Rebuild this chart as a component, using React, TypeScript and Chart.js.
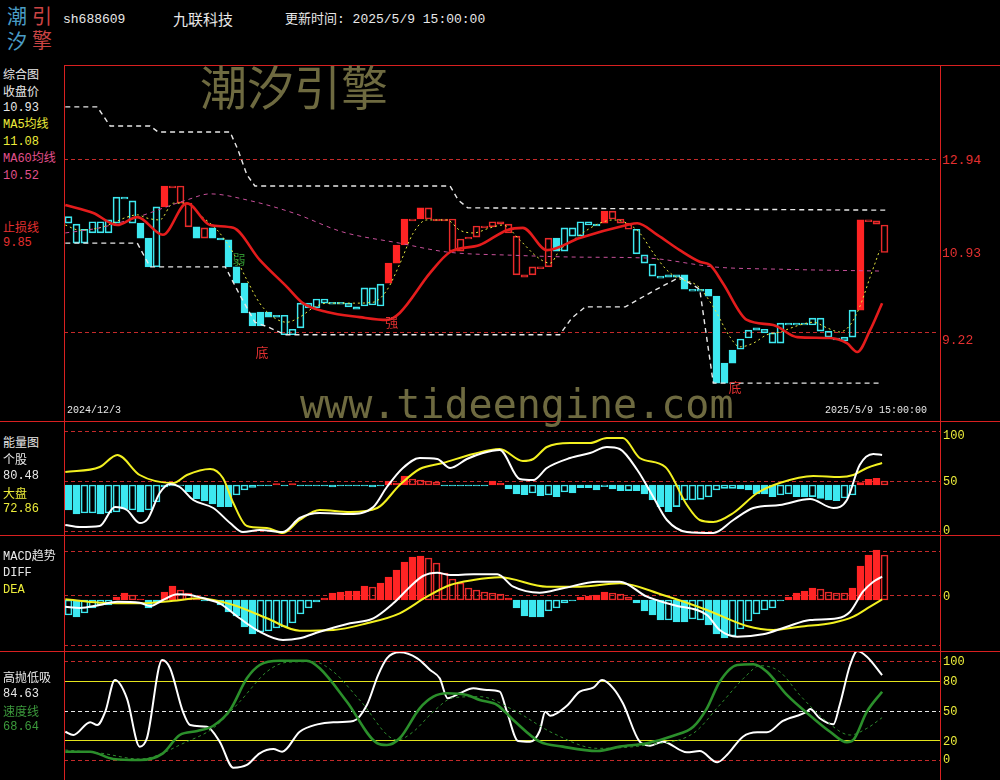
import React, { useEffect, useRef } from "react";
import { Chart, registerables } from "chart.js";
Chart.register(...registerables);

// ---------- data ----------
const N = 103;
const stockCode = "sh688609";
const stockName = "九联科技";
const updateTime = "更新时间: 2025/5/9 15:00:00";
const firstDate = "2024/12/3";
const lastDate = "2025/5/9 15:00:00";

// candle body top / bottom prices
const bodyHi = [11.70,11.54,11.43,11.59,11.59,11.63,12.12,12.12,12.04,11.56,
11.24,11.91,12.36,12.36,12.36,11.99,11.48,11.46,11.46,11.24,
11.20,10.62,10.27,9.63,9.65,9.65,9.58,9.58,9.28,9.84,
9.84,9.93,9.93,9.86,9.86,9.84,9.76,10.17,10.17,10.25,
10.70,11.09,11.65,11.65,11.89,11.89,11.65,11.65,11.65,11.22,
11.26,11.50,11.50,11.59,11.59,11.54,11.28,10.45,10.62,10.62,
11.24,11.24,11.46,11.46,11.59,11.59,11.54,11.82,11.82,11.65,
11.56,11.43,10.88,10.68,10.42,10.45,10.45,10.45,10.14,10.14,
10.14,9.99,8.55,8.83,9.07,9.26,9.31,9.28,9.20,9.41,
9.41,9.41,9.41,9.52,9.52,9.24,9.09,9.11,9.69,11.63,
11.63,11.61,11.52];
const bodyLo = [11.56,11.13,11.13,11.35,11.35,11.35,11.56,12.08,11.56,11.24,
10.62,10.62,11.91,12.32,11.99,11.48,11.24,11.24,11.24,11.20,
10.62,10.27,9.63,9.35,9.35,9.54,9.54,9.16,9.16,9.31,
9.74,9.74,9.84,9.82,9.82,9.76,9.71,9.78,9.80,9.78,
10.27,10.70,11.09,11.61,11.65,11.65,11.61,11.61,10.96,10.96,
11.22,11.26,11.46,11.48,11.54,11.35,10.45,10.40,10.45,10.58,
10.62,10.96,10.96,11.28,11.28,11.52,11.50,11.56,11.65,11.56,
11.43,10.90,10.70,10.42,10.38,10.40,10.40,10.14,10.10,10.10,
9.99,8.12,8.12,8.55,8.85,9.09,9.26,9.20,8.98,8.98,
9.37,9.37,9.37,9.37,9.24,9.11,9.05,9.03,9.11,9.69,
11.59,11.54,10.93];
// C = cyan hollow, c = cyan solid, R = red hollow, r = red solid
const candleKind = ("CCCCCCCCC" + "cc" + "C" + "r" + "RRR" + "c" + "R" + "ccccccccc" + "CCCCCCCCCCCCC" +
  "rrr" + "R" + "r" + "RRRRRRRRRRRRRRRR" + "c" + "CCCCC" + "r" + "RRR" + "CCCCCC" + "c" + "CC" +
  "cccc" + "CCCCCCCCCCCCCCC" + "r" + "RRR").split("");

// MA5 (yellow dotted)
const ma5Idx = [-0.4,1.4,4.3,7.3,8.6,9.8,11.4,13.1,14.8,16.4,18.6,20.6,22.3,23.9,25.6,27.3,28.9,30.6,32.3,35.6,38.1,39.8,41.4,43.1,44.8,47.3,48.9,50.6,52.7,54.3,56.4,58.6,60.2,61.4,63.1,64.8,66.4,68.1,69.8,71.4,73.1,74.8,76.4,78.1,78.9,80.6,82.7,83.9,85.6,87.3,88.9,91.4,93.1,94.8,96.4,97.7,98.9,100.2,101.4];
const ma5Val = [11.52,11.41,11.48,11.69,11.74,11.67,11.63,11.99,11.99,11.74,11.41,10.92,10.34,9.84,9.54,9.43,9.54,9.74,9.84,9.84,9.86,10.12,10.68,11.35,11.63,11.63,11.41,11.35,11.46,11.52,11.20,10.83,10.70,10.98,11.20,11.41,11.56,11.63,11.56,11.35,10.92,10.55,10.36,10.27,10.17,9.76,9.11,8.90,8.98,9.16,9.22,9.37,9.43,9.31,9.22,9.37,9.76,10.40,10.98];
// MA60 (pink dashed)
const ma60Idx = [-0.4,3.9,8.6,14.8,17.7,22.3,28.1,34.3,41.4,47.3,55.6,63.9,72.3,78.9,80.6,88.9,101.7];
const ma60Val = [11.35,11.46,11.69,12.06,12.19,12.06,11.78,11.37,11.13,10.94,10.87,10.83,10.81,10.66,10.62,10.57,10.53];
// stop-loss line (red)
const stopIdx = [-0.4,3.1,6.1,8.6,11.8,14.8,17.7,20.6,23.9,27.3,29.3,32.3,36.4,39.8,41.4,45.2,47.7,51.4,54.8,56.8,59.8,63.9,69.8,71.1,73.6,76.4,78.9,80.2,81.8,84.8,88.1,91.1,95.2,97.3,98.6,100.2,101.7];
const stopVal = [11.95,11.78,11.52,11.69,11.31,11.99,11.52,11.46,10.77,10.19,9.84,9.65,9.54,9.48,9.63,10.49,10.94,11.09,11.41,11.46,10.98,11.24,11.52,11.56,11.31,10.98,10.73,10.66,10.27,9.48,9.37,9.11,9.09,8.98,8.79,9.26,9.84];
// upper / lower channel (white dashed)
const upIdx = [-0.4,3.6,5.2,10.2,11.2,20.2,21.2,22.3,23.3,47.7,48.7,49.9,102.1];
const upVal = [14.06,14.06,13.65,13.65,13.52,13.52,13.13,12.60,12.36,12.36,12.06,11.89,11.84];
const lowIdx = [-0.4,8.6,10.2,19.6,21.4,23.3,24.9,27.1,61.4,62.9,64.6,69.6,73.3,76.4,78.9,80.6,101.4];
const lowVal = [11.13,11.13,10.62,10.62,10.02,9.43,9.33,9.16,9.16,9.52,9.76,9.76,10.12,10.40,10.14,8.12,8.12];
const priceTicks = [12.94, 10.93, 9.22];
const priceGrid = [12.94, 9.22];
const marks = [
  { t: "底", i: 24.2, p: 8.79, c: "#e03030" },
  { t: "底", i: 83.3, p: 8.04, c: "#e03030" },
  { t: "弱", i: 21.3, p: 10.79, c: "#2f8f2f" },
  { t: "强", i: 40.4, p: 9.43, c: "#e03030" },
];

// energy panel
const energyBase = 45.7;
const energyBar = [20.7,16.7,17.7,17.7,16.7,17.7,18.7,21.7,20.7,18.7,
20.7,28.7,43.7,44.7,44.7,39,31.7,29.7,26.7,24,
24,35.7,40.7,43.4,44.7,44.7,47,44.7,47,44.7,
44.7,44.7,44.7,43.7,44.7,44.7,44.7,44.7,43.7,44.7,
49.7,47.7,54.7,51.7,50.7,49.7,48.7,44.7,44.7,44.7,
44.7,44.7,44.7,49.7,47.7,41.7,36.7,36,37.7,35,
35.7,34,38.7,37.7,43,43,40.7,44,41.7,40,
40,40,36.7,30.7,24,19,24,30.7,30.7,31.4,
33.7,40.7,42.4,42.4,41.7,40.7,36.7,36.7,34,35.7,
36.7,34,34,34,32.4,30.7,30,32.7,35.7,48,
51.4,52.4,49.7];
const energySolid = ("1100100101" + "0000011111" + "1000111111" + "1111111111" + "1110000111" +
  "1111111101" + "0101001011" + "0111110000" + "0000111110" + "0110111001" + "110").split("");
const stockIdx = [-0.4,1.4,3.9,5.8,7.3,8.9,9.9,11.4,12.7,13.9,15.6,18.1,20.2,21.8,23.9,26.8,28.9,31.4,35.2,38.1,39.8,41.8,43.9,46.1,47.7,49.8,51.8,53.9,56.4,58.1,59.8,62.7,65.2,67.3,68.9,71.1,73.1,74.8,77.3,80.6,83.1,85.6,88.9,92.7,95.6,97.3,98.9,100.6,101.7];
const stockVal = [5.7,3.7,4.7,23.7,20.7,7.7,11.7,37.7,46.7,43.7,30.7,22.7,7.7,-1.3,0.7,-1.3,12.7,17.7,16.7,23.7,43.7,62.7,72.7,71.7,62.7,71.7,77.7,80.7,51.7,50.7,62.7,72.7,77.7,83.7,81.7,60.7,33.7,10.7,-1.3,-2.3,10.7,22.7,25.7,31.7,22.7,30.7,65.7,76.7,75.7];
const marketIdx = [-0.4,3.9,6.1,8.9,13.1,14.8,17.7,19.3,20.6,22.3,24.8,26.8,28.9,31.4,35.2,38.6,41.4,43.9,46.8,50.6,53.9,56.8,58.1,59.8,62.7,65.2,67.3,69.3,71.4,74.6,77.3,78.9,80.6,83.1,86.1,88.9,93.1,96.4,98.1,99.8,101.7];
const marketVal = [58.7,63.7,75.7,55.7,47.7,55.7,61.7,52.7,27.7,4.7,2.7,-2.3,10.7,20.7,18.7,22.7,45.7,61.7,67.7,76.7,81.7,69.7,71.7,83.7,87.7,87.7,92.7,92.7,72.7,63.7,25.7,10.7,8.7,17.7,37.7,47.7,54.7,53.7,55.7,62.7,67.7];
const energyTicks = [100, 50, 0];

// MACD panel
const macdBase = -0.05;
const macdBar = [-0.20,-0.22,-0.18,-0.13,-0.10,-0.10,-0.02,0.02,0.0,-0.04,
-0.13,-0.08,0.03,0.09,0.05,0.02,-0.03,-0.06,-0.06,-0.10,
-0.17,-0.21,-0.32,-0.39,-0.37,-0.36,-0.33,-0.32,-0.28,-0.19,
-0.13,-0.07,-0.03,0.02,0.03,0.04,0.04,0.09,0.08,0.12,
0.18,0.25,0.33,0.38,0.39,0.37,0.32,0.22,0.16,0.12,
0.07,0.05,0.03,0.02,0.01,-0.03,-0.13,-0.21,-0.22,-0.22,
-0.16,-0.13,-0.08,-0.06,-0.02,-0.01,0.0,0.03,0.02,0.01,
-0.02,-0.08,-0.16,-0.20,-0.25,-0.25,-0.27,-0.27,-0.24,-0.25,
-0.30,-0.39,-0.43,-0.41,-0.34,-0.26,-0.19,-0.15,-0.13,-0.06,
-0.02,0.02,0.04,0.07,0.06,0.03,0.02,0.02,0.07,0.29,
0.40,0.45,0.40];
const macdSolid = ("0100001101" + "1111000111" + "1111000000" + "0111111101" + "1111100000" +
  "0000011111" + "0001111100" + "0111101100" + "1110000001" + "1111000011" + "110").split("");
const diffIdx = [-0.4,1.4,3.9,6.1,8.9,10.2,11.8,13.6,15.2,17.3,18.9,21.4,23.9,26.8,28.9,31.4,35.2,38.1,40.6,42.7,44.3,46.1,47.7,50.6,53.6,55.6,58.9,61.8,66.1,68.9,72.3,75.6,79.8,81.4,83.6,86.8,89.8,92.7,96.1,97.7,99.3,100.6,101.7];
const diffVal = [-0.117,-0.13,-0.10,-0.067,-0.077,-0.11,-0.05,0.007,0.0,-0.043,-0.083,-0.233,-0.367,-0.45,-0.433,-0.367,-0.283,-0.233,-0.083,0.083,0.19,0.223,0.20,0.207,0.207,0.083,0.023,0.067,0.133,0.133,-0.017,-0.10,-0.20,-0.35,-0.417,-0.393,-0.317,-0.25,-0.233,-0.167,0.033,0.133,0.183];
const deaIdx = [-0.4,3.9,8.9,13.1,16.4,20.6,24.8,28.9,33.1,37.3,41.4,44.8,47.7,50.6,53.9,59.8,63.9,68.9,74.3,79.8,84.8,88.1,91.4,95.6,98.1,100.2,101.7];
const deaVal = [-0.043,-0.077,-0.083,-0.057,-0.033,-0.10,-0.233,-0.357,-0.35,-0.283,-0.183,-0.017,0.10,0.15,0.177,0.083,0.083,0.117,0.0,-0.15,-0.31,-0.35,-0.317,-0.277,-0.217,-0.117,-0.043];
const macdGrid = [0.443, 0, -0.503];

// high-sell low-buy panel
const swingIdx = [-0.4,0.6,2.7,3.6,4.6,5.8,7.3,8.9,9.8,11.7,12.7,14.3,15.2,17.3,18.9,20.6,22.3,23.9,25.6,26.7,28.9,31.1,33.1,35.6,37.3,38.7,39.8,41.4,43.6,45.2,46.4,47.4,48.9,50.6,52.3,53.9,54.8,56.2,57.7,58.9,59.6,60.2,62.3,63.9,65.6,66.7,68.1,69.3,71.4,72.7,74.3,77.3,78.9,81.1,82.3,84.3,86.1,87.3,89.3,92.3,92.7,93.9,95.6,96.4,97.7,98.6,99.8,101.7];
const swingVal = [28.7,25.4,38.2,35.4,48.8,80.6,62.2,13.7,22.1,100.7,92.4,48.8,35.4,33.7,18.7,-7.4,-4.7,7.0,11.3,8.6,28.7,36.1,38.2,39.5,55.5,85.6,102.4,108.4,102.4,90.7,82.3,62.2,67.3,72.3,70.6,68.9,48.8,19.4,18.7,29.4,48.8,44.8,54.8,68.9,72.9,80.6,72.3,57.2,18.7,14.7,18.7,8.0,9.3,-2.0,5.3,23.7,28.1,28.1,39.5,48.8,51.5,42.2,36.1,55.5,95.7,109.7,104.0,85.6];
const speedIdx = [-0.4,2.7,5.6,8.9,11.8,13.9,16.1,18.1,20.2,22.3,23.9,26.4,29.8,31.4,34.8,38.6,39.8,41.4,43.9,45.6,47.3,49.8,51.4,53.6,55.6,58.9,61.8,66.1,68.9,72.3,75.6,78.1,79.8,81.4,83.6,85.6,87.3,89.8,93.1,95.2,97.3,98.1,99.8,101.7];
const speedVal = [8.6,8.6,1.3,0.3,7.0,25.4,29.4,34.7,50.5,82.3,95.7,100.0,100.0,92.4,58.8,17.1,15.4,22.1,52.2,63.9,67.3,65.6,60.5,55.5,40.5,18.7,13.7,9.3,13.7,17.1,24.7,33.7,52.2,78.9,95.7,96.4,89.0,65.6,42.2,28.7,18.1,20.4,48.8,68.9];
const slowIdx = [-0.4,3.9,8.9,14.8,18.1,21.4,24.8,27.3,30.6,33.1,36.4,41.1,43.1,45.6,48.1,51.4,55.6,60.6,66.1,72.3,78.1,81.4,84.8,86.4,88.9,91.4,94.8,97.7,99.8,101.7];
const slowVal = [10.3,7.3,1.3,18.7,32.4,58.8,89.0,98.4,99.0,89.0,60.5,20.4,28.7,48.8,62.9,63.9,50.5,27.1,12.0,15.4,27.1,55.5,85.6,95.0,89.0,65.6,38.8,25.4,32.1,42.8];
const swingTicks = [100, 80, 50, 20, 0];

// ---------- helpers ----------
const X_MIN = -0.5625;
const X_MAX = 108.9375;
const CW = 876;
const CL = 64;
const MONO = "'Liberation Mono', 'DejaVu Sans Mono', 'Noto Sans CJK SC', monospace";
const CJK = "'Noto Sans CJK SC', 'DejaVu Sans', sans-serif";
const RED = "#ff2424";
const CYAN = "#3de8f0";
const FRAME = "#d82020";
const GRIDRED = "#c42a2a";
const LEVEL_YELLOW = "#e4e41c";

const pts = (xs: number[], ys: number[]) => xs.map((x, k) => ({ x, y: ys[k] }));

function lineDs(xs: number[], ys: number[], color: string, width: number, extra: any = {}) {
  return {
    type: "line", data: pts(xs, ys), borderColor: color, borderWidth: width,
    pointRadius: 0, fill: false, cubicInterpolationMode: "monotone", order: 1, ...extra,
  };
}

function baseOptions(ymin: number, ymax: number) {
  return {
    responsive: false, maintainAspectRatio: false, animation: false, devicePixelRatio: 1,
    events: [],
    layout: { padding: 0 },
    plugins: { legend: { display: false }, tooltip: { enabled: false } },
    scales: {
      x: { type: "linear", min: X_MIN, max: X_MAX, display: false, offset: false },
      y: { type: "linear", min: ymin, max: ymax, display: false },
    },
  };
}

type RefLine = { v: number; color: string; dash?: number[]; w?: number; cut?: number };
function refLines(id: string, lines: RefLine[]) {
  return {
    id,
    beforeDatasetsDraw(chart: any) {
      const { ctx, chartArea, scales } = chart;
      ctx.save();
      for (const l of lines) {
        const y = Math.round(scales.y.getPixelForValue(l.v)) + 0.5;
        ctx.beginPath();
        ctx.setLineDash(l.dash || []);
        ctx.strokeStyle = l.color;
        ctx.lineWidth = l.w || 1;
        ctx.moveTo(chartArea.left, y);
        ctx.lineTo(chartArea.right - (l.cut || 0), y);
        ctx.stroke();
      }
      ctx.restore();
    },
  };
}

const markPlugin = {
  id: "marks",
  afterDatasetsDraw(chart: any) {
    const { ctx, scales } = chart;
    ctx.save();
    ctx.font = "13px " + CJK;
    ctx.textAlign = "center";
    ctx.textBaseline = "middle";
    for (const m of marks) {
      ctx.fillStyle = m.c;
      ctx.fillText(m.t, scales.x.getPixelForValue(m.i), scales.y.getPixelForValue(m.p));
    }
    ctx.restore();
  },
};

function barsDs(lo: (i: number) => number, hi: (i: number) => number, red: (i: number) => boolean, solid: (i: number) => boolean) {
  const idx = Array.from({ length: N }, (_, i) => i);
  return {
    type: "bar",
    data: idx.map((i) => ({ x: i, y: [lo(i), hi(i)] })),
    backgroundColor: idx.map((i) => (solid(i) ? (red(i) ? RED : CYAN) : "rgba(0,0,0,0)")),
    borderColor: idx.map((i) => (red(i) ? (solid(i) ? RED : "#e82a2a") : CYAN)),
    borderWidth: 1,
    borderSkipped: false,
    barThickness: 7,
    grouped: false,
    order: 5,
  };
}

function mainConfig() {
  return {
    type: "bar",
    data: {
      datasets: [
        barsDs((i) => bodyLo[i], (i) => bodyHi[i], (i) => candleKind[i] === "R" || candleKind[i] === "r", (i) => candleKind[i] === "c" || candleKind[i] === "r"),
        lineDs(stopIdx, stopVal, "#e41c1c", 2.6, { order: 0 }),
        lineDs(ma60Idx, ma60Val, "#c8509a", 1, { borderDash: [4, 4] }),
        lineDs(ma5Idx, ma5Val, "#e8e840", 1, { borderDash: [2, 3] }),
        lineDs(upIdx, upVal, "#e8e8e8", 1.4, { borderDash: [5, 4], cubicInterpolationMode: "default", tension: 0 }),
        lineDs(lowIdx, lowVal, "#e8e8e8", 1.4, { borderDash: [5, 4], cubicInterpolationMode: "default", tension: 0 }),
      ],
    },
    options: baseOptions(7.3062, 14.9613),
    plugins: [refLines("mainGrid", priceGrid.map((v) => ({ v, color: GRIDRED, dash: [4, 3], cut: 3 }))), markPlugin],
  };
}

function energyConfig() {
  return {
    type: "bar",
    data: {
      datasets: [
        barsDs(() => energyBase, (i) => energyBar[i], (i) => energyBar[i] > energyBase, (i) => energySolid[i] === "1"),
        lineDs(stockIdx, stockVal, "#ffffff", 2),
        lineDs(marketIdx, marketVal, "#f2f020", 2),
      ],
    },
    options: baseOptions(-4.3, 109.7),
    plugins: [refLines("energyGrid", energyTicks.map((v) => ({ v, color: GRIDRED, dash: [4, 3] })))],
  };
}

function macdConfig() {
  return {
    type: "bar",
    data: {
      datasets: [
        barsDs(() => macdBase, (i) => macdBar[i], (i) => macdBar[i] > macdBase, (i) => macdSolid[i] === "1"),
        lineDs(diffIdx, diffVal, "#ffffff", 2),
        lineDs(deaIdx, deaVal, "#f2f020", 2),
      ],
    },
    options: baseOptions(-0.56, 0.6),
    plugins: [refLines("macdGrid", macdGrid.map((v) => ({ v, color: GRIDRED, dash: [4, 3] })))],
  };
}

function swingConfig() {
  const styles: Record<number, RefLine> = {
    100: { v: 100, color: GRIDRED, dash: [4, 3] },
    80: { v: 80, color: LEVEL_YELLOW },
    50: { v: 50, color: "#e8e8e8", dash: [4, 3] },
    20: { v: 20, color: LEVEL_YELLOW },
    0: { v: 0, color: GRIDRED, dash: [4, 3] },
  };
  return {
    type: "line",
    data: {
      datasets: [
        lineDs(slowIdx, slowVal, "#2d8a2d", 1, { borderDash: [3, 3] }),
        lineDs(speedIdx, speedVal, "#2b8f2b", 2.6),
        lineDs(swingIdx, swingVal, "#ffffff", 2),
      ],
    },
    options: baseOptions(-19.78, 109.74),
    plugins: [refLines("swingGrid", swingTicks.map((t) => styles[t]))],
  };
}

function ChartCanvas({ top, height, make }: { top: number; height: number; make: () => any }) {
  const ref = useRef<HTMLCanvasElement | null>(null);
  useEffect(() => {
    const c = new Chart(ref.current as HTMLCanvasElement, make());
    return () => c.destroy();
  }, []);
  return (
    <canvas ref={ref} width={CW} height={height}
      style={{ position: "absolute", left: CL, top, width: CW, height, display: "block" }} />
  );
}

function Txt({ x, y, text, color, size = 12, font = MONO, lh }: any) {
  const h = lh || size + 2;
  return (
    <div style={{ position: "absolute", left: x, top: y - h / 2, color, fontSize: size, lineHeight: h + "px",
      fontFamily: font, whiteSpace: "pre" }}>{text}</div>
  );
}

function HLine({ y, x1 = 0, x2 = 1000 }: any) {
  return <div style={{ position: "absolute", left: x1, top: y, width: x2 - x1, height: 1, background: FRAME }} />;
}
function VLine({ x, y1, y2 }: any) {
  return <div style={{ position: "absolute", left: x, top: y1, width: 1, height: y2 - y1, background: FRAME }} />;
}

export default function App() {
  useEffect(() => {
    document.body.style.margin = "0";
    document.body.style.background = "#000";
  }, []);
  const W = "#e8e8e8", Y = "#ecec3a", PINK = "#e0508c", R = "#e43030", G = "#3c9a3c";
  return (
    <div style={{ position: "fixed", left: 0, top: 0, width: 1000, height: 780, background: "#000", overflow: "hidden" }}>
      <ChartCanvas top={65} height={356} make={mainConfig} />
      <ChartCanvas top={421} height={114} make={energyConfig} />
      <ChartCanvas top={535} height={116} make={macdConfig} />
      <ChartCanvas top={651} height={129} make={swingConfig} />

      {/* frame */}
      <HLine y={65} x1={64} />
      <HLine y={421} />
      <HLine y={535} />
      <HLine y={651} />
      <VLine x={64} y1={65} y2={780} />
      <VLine x={940} y1={65} y2={780} />

      {/* header */}
      <Txt x={7} y={16} text="潮" color="#4a9cc4" size={20} font={CJK} lh={22} />
      <Txt x={32} y={16} text="引" color="#cc4444" size={20} font={CJK} lh={22} />
      <Txt x={7} y={41} text="汐" color="#4a9cc4" size={20} font={CJK} lh={22} />
      <Txt x={32} y={40} text="擎" color="#cc4444" size={20} font={CJK} lh={22} />
      <Txt x={63} y={19} text={stockCode} color={W} size={13} />
      <Txt x={173} y={19} text={stockName} color={W} size={15} font={CJK} lh={18} />
      <Txt x={285} y={19} text={updateTime} color={W} size={13} />

      {/* watermarks */}
      <Txt x={200} y={85} text="潮汐引擎" color="#6e6a40" size={47} font={CJK} lh={48} />
      <div style={{ position: "absolute", left: 300, top: 384, fontSize: 40, lineHeight: "40px", color: "#6e6a40",
        fontFamily: "'DejaVu Sans Mono', monospace", whiteSpace: "pre" }}>www.tideengine.com</div>

      {/* dates */}
      <Txt x={67} y={411} text={firstDate} color={W} size={10} />
      <Txt x={825} y={411} text={lastDate} color={W} size={10} />

      {/* left labels */}
      <Txt x={3} y={74} text="综合图" color={W} font={CJK} />
      <Txt x={3} y={91} text="收盘价" color={W} font={CJK} />
      <Txt x={3} y={108} text="10.93" color={W} />
      <Txt x={3} y={125} text="MA5均线" color={Y} />
      <Txt x={3} y={142} text="11.08" color={Y} />
      <Txt x={3} y={159} text="MA60均线" color={PINK} />
      <Txt x={3} y={176} text="10.52" color={PINK} />
      <Txt x={3} y={227} text="止损线" color={R} font={CJK} />
      <Txt x={3} y={243} text="9.85" color={R} />

      <Txt x={3} y={442} text="能量图" color={W} font={CJK} />
      <Txt x={3} y={459} text="个股" color={W} font={CJK} />
      <Txt x={3} y={476} text="80.48" color={W} />
      <Txt x={3} y={493} text="大盘" color={Y} font={CJK} />
      <Txt x={3} y={509} text="72.86" color={Y} />

      <Txt x={3} y={557} text="MACD趋势" color={W} />
      <Txt x={3} y={573} text="DIFF" color={W} />
      <Txt x={3} y={590} text="DEA" color={Y} />

      <Txt x={3} y={677} text="高抛低吸" color={W} font={CJK} />
      <Txt x={3} y={694} text="84.63" color={W} />
      <Txt x={3} y={711} text="速度线" color={G} font={CJK} />
      <Txt x={3} y={727} text="68.64" color={G} />

      {/* right axis labels */}
      <Txt x={942} y={160} text={priceTicks[0].toFixed(2)} color={R} size={13} />
      <Txt x={942} y={253} text={priceTicks[1].toFixed(2)} color={R} size={13} />
      <Txt x={942} y={340} text={priceTicks[2].toFixed(2)} color={R} size={13} />
      <Txt x={943} y={436} text={String(energyTicks[0])} color={Y} />
      <Txt x={943} y={482} text={String(energyTicks[1])} color={Y} />
      <Txt x={943} y={531} text={String(energyTicks[2])} color={Y} />
      <Txt x={943} y={597} text="0" color={Y} />
      <Txt x={943} y={662} text={String(swingTicks[0])} color={Y} />
      <Txt x={943} y={682} text={String(swingTicks[1])} color={Y} />
      <Txt x={943} y={712} text={String(swingTicks[2])} color={Y} />
      <Txt x={943} y={742} text={String(swingTicks[3])} color={Y} />
      <Txt x={943} y={760} text={String(swingTicks[4])} color={Y} />
    </div>
  );
}
